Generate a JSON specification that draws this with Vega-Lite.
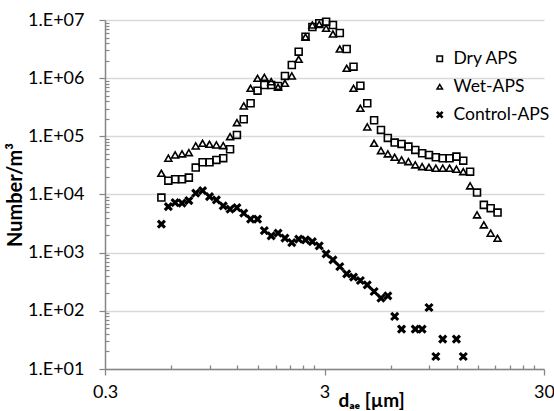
{
  "$schema": "https://vega.github.io/schema/vega-lite/v6.json",
  "autosize": "none",
  "width": 439,
  "height": 349,
  "padding": {"left": 105, "top": 20, "right": 10, "bottom": 42},
  "background": "white",
  "view": {"stroke": null},
  "config": {"font": "Lato"},
  "data": {"values": [
    {"d":0.542,"n":8850,"s":"Dry APS"},{"d":0.583,"n":17300,"s":"Dry APS"},{"d":0.626,"n":18300,"s":"Dry APS"},{"d":0.673,"n":18300,"s":"Dry APS"},{"d":0.723,"n":19500,"s":"Dry APS"},{"d":0.777,"n":29000,"s":"Dry APS"},{"d":0.835,"n":35900,"s":"Dry APS"},{"d":0.898,"n":35900,"s":"Dry APS"},{"d":0.965,"n":39300,"s":"Dry APS"},{"d":1.037,"n":42100,"s":"Dry APS"},
    {"d":1.114,"n":60000,"s":"Dry APS"},{"d":1.197,"n":105700,"s":"Dry APS"},{"d":1.286,"n":196800,"s":"Dry APS"},{"d":1.382,"n":370500,"s":"Dry APS"},{"d":1.486,"n":610000,"s":"Dry APS"},{"d":1.596,"n":764000,"s":"Dry APS"},{"d":1.715,"n":764000,"s":"Dry APS"},{"d":1.843,"n":735000,"s":"Dry APS"},{"d":1.981,"n":1092000,"s":"Dry APS"},{"d":2.129,"n":1686000,"s":"Dry APS"},
    {"d":2.288,"n":2853000,"s":"Dry APS"},{"d":2.458,"n":5164000,"s":"Dry APS"},{"d":2.642,"n":7580000,"s":"Dry APS"},{"d":2.839,"n":8780000,"s":"Dry APS"},{"d":3.051,"n":9350000,"s":"Dry APS"},{"d":3.278,"n":8200000,"s":"Dry APS"},{"d":3.523,"n":5980000,"s":"Dry APS"},{"d":3.786,"n":3175000,"s":"Dry APS"},{"d":4.068,"n":1577000,"s":"Dry APS"},{"d":4.371,"n":743000,"s":"Dry APS"},
    {"d":4.698,"n":370000,"s":"Dry APS"},{"d":5.048,"n":189000,"s":"Dry APS"},{"d":5.425,"n":128800,"s":"Dry APS"},{"d":5.829,"n":93900,"s":"Dry APS"},{"d":6.264,"n":78000,"s":"Dry APS"},{"d":6.732,"n":74000,"s":"Dry APS"},{"d":7.234,"n":66600,"s":"Dry APS"},{"d":7.774,"n":58400,"s":"Dry APS"},{"d":8.354,"n":51200,"s":"Dry APS"},{"d":8.977,"n":47900,"s":"Dry APS"},
    {"d":9.647,"n":43700,"s":"Dry APS"},{"d":10.37,"n":42000,"s":"Dry APS"},{"d":11.14,"n":42000,"s":"Dry APS"},{"d":11.97,"n":44800,"s":"Dry APS"},{"d":12.86,"n":38200,"s":"Dry APS"},{"d":13.82,"n":24700,"s":"Dry APS"},{"d":14.86,"n":10780,"s":"Dry APS"},{"d":15.96,"n":6630,"s":"Dry APS"},{"d":17.15,"n":5820,"s":"Dry APS"},{"d":18.43,"n":4890,"s":"Dry APS"},
    {"d":0.542,"n":23200,"s":"Wet-APS"},{"d":0.583,"n":42100,"s":"Wet-APS"},{"d":0.626,"n":47900,"s":"Wet-APS"},{"d":0.673,"n":49900,"s":"Wet-APS"},{"d":0.723,"n":52500,"s":"Wet-APS"},{"d":0.777,"n":68400,"s":"Wet-APS"},{"d":0.835,"n":76000,"s":"Wet-APS"},{"d":0.898,"n":73100,"s":"Wet-APS"},{"d":0.965,"n":71100,"s":"Wet-APS"},{"d":1.037,"n":69200,"s":"Wet-APS"},
    {"d":1.114,"n":98800,"s":"Wet-APS"},{"d":1.197,"n":171900,"s":"Wet-APS"},{"d":1.286,"n":332900,"s":"Wet-APS"},{"d":1.382,"n":670600,"s":"Wet-APS"},{"d":1.486,"n":995000,"s":"Wet-APS"},{"d":1.596,"n":1035000,"s":"Wet-APS"},{"d":1.715,"n":870000,"s":"Wet-APS"},{"d":1.843,"n":698000,"s":"Wet-APS"},{"d":1.981,"n":817000,"s":"Wet-APS"},{"d":2.129,"n":1092000,"s":"Wet-APS"},
    {"d":2.288,"n":2113000,"s":"Wet-APS"},{"d":2.458,"n":5100000,"s":"Wet-APS"},{"d":2.642,"n":8200000,"s":"Wet-APS"},{"d":2.839,"n":8400000,"s":"Wet-APS"},{"d":3.051,"n":7200000,"s":"Wet-APS"},{"d":3.278,"n":5750000,"s":"Wet-APS"},{"d":3.523,"n":3175000,"s":"Wet-APS"},{"d":3.786,"n":1479000,"s":"Wet-APS"},{"d":4.068,"n":670000,"s":"Wet-APS"},{"d":4.371,"n":304000,"s":"Wet-APS"},
    {"d":4.698,"n":145000,"s":"Wet-APS"},{"d":5.048,"n":76000,"s":"Wet-APS"},{"d":5.425,"n":56800,"s":"Wet-APS"},{"d":5.829,"n":49900,"s":"Wet-APS"},{"d":6.264,"n":43700,"s":"Wet-APS"},{"d":6.732,"n":39300,"s":"Wet-APS"},{"d":7.234,"n":36800,"s":"Wet-APS"},{"d":7.774,"n":32300,"s":"Wet-APS"},{"d":8.354,"n":30200,"s":"Wet-APS"},{"d":8.977,"n":29400,"s":"Wet-APS"},
    {"d":9.647,"n":28300,"s":"Wet-APS"},{"d":10.37,"n":28300,"s":"Wet-APS"},{"d":11.14,"n":28300,"s":"Wet-APS"},{"d":11.97,"n":27200,"s":"Wet-APS"},{"d":12.86,"n":24700,"s":"Wet-APS"},{"d":13.82,"n":14050,"s":"Wet-APS"},{"d":14.86,"n":4460,"s":"Wet-APS"},{"d":15.96,"n":3000,"s":"Wet-APS"},{"d":17.15,"n":2160,"s":"Wet-APS"},{"d":18.43,"n":1770,"s":"Wet-APS"},
    {"d":0.542,"n":3090,"s":"Control-APS"},{"d":0.583,"n":6190,"s":"Control-APS"},{"d":0.626,"n":7260,"s":"Control-APS"},{"d":0.673,"n":7090,"s":"Control-APS"},{"d":0.723,"n":7860,"s":"Control-APS"},{"d":0.777,"n":10530,"s":"Control-APS"},{"d":0.835,"n":11660,"s":"Control-APS"},{"d":0.898,"n":9200,"s":"Control-APS"},{"d":0.965,"n":8080,"s":"Control-APS"},{"d":1.037,"n":6370,"s":"Control-APS"},
    {"d":1.114,"n":5590,"s":"Control-APS"},{"d":1.197,"n":5930,"s":"Control-APS"},{"d":1.286,"n":4770,"s":"Control-APS"},{"d":1.382,"n":3770,"s":"Control-APS"},{"d":1.486,"n":3770,"s":"Control-APS"},{"d":1.596,"n":2400,"s":"Control-APS"},{"d":1.715,"n":1945,"s":"Control-APS"},{"d":1.843,"n":2165,"s":"Control-APS"},{"d":1.981,"n":1775,"s":"Control-APS"},{"d":2.129,"n":1492,"s":"Control-APS"},
    {"d":2.288,"n":1706,"s":"Control-APS"},{"d":2.458,"n":1660,"s":"Control-APS"},{"d":2.642,"n":1552,"s":"Control-APS"},{"d":2.839,"n":1309,"s":"Control-APS"},{"d":3.051,"n":953,"s":"Control-APS"},{"d":3.278,"n":752,"s":"Control-APS"},{"d":3.523,"n":577,"s":"Control-APS"},{"d":3.786,"n":432,"s":"Control-APS"},{"d":4.068,"n":379,"s":"Control-APS"},{"d":4.371,"n":332,"s":"Control-APS"},
    {"d":4.698,"n":280,"s":"Control-APS"},{"d":5.048,"n":215,"s":"Control-APS"},{"d":5.425,"n":165,"s":"Control-APS"},{"d":5.829,"n":181,"s":"Control-APS"},{"d":6.264,"n":80,"s":"Control-APS"},{"d":6.732,"n":48.5,"s":"Control-APS"},{"d":7.774,"n":48.5,"s":"Control-APS"},{"d":8.354,"n":48.5,"s":"Control-APS"},{"d":8.977,"n":114,"s":"Control-APS"},{"d":9.647,"n":16.4,"s":"Control-APS"},
    {"d":10.37,"n":32.7,"s":"Control-APS"},{"d":11.97,"n":32.7,"s":"Control-APS"},{"d":12.86,"n":16.4,"s":"Control-APS"}
  ]},
  "mark": {"type": "point", "filled": false, "stroke": "black", "strokeWidth": 1.6, "opacity": 1, "size": 48},
  "encoding": {
    "x": {
      "field": "d", "type": "quantitative",
      "scale": {"type": "log", "domain": [0.3, 30], "nice": false},
      "axis": {
        "title": "dₐₑ [µm]",
        "titleFont": "Lato", "titleFontSize": 19, "titleFontWeight": "bold", "titleColor": "black",
        "titleX": 266, "titleY": 37, "titleBaseline": "alphabetic", "titleAlign": "center",
        "values": [0.3,0.6,0.9,1.2,1.5,1.8,2.1,2.4,2.7,3,6,9,12,15,18,21,24,27,30],
        "labelExpr": "datum.value==0.3?'0.3':(datum.value==3?'3':(datum.value==30?'30':''))",
        "labelFont": "Lato", "labelFontSize": 18, "labelColor": "black",
        "labelOverlap": false, "labelFlush": false, "labelBound": false, "labelPadding": 8,
        "grid": false,
        "domainColor": "#868686", "domainWidth": 1.5,
        "tickColor": "#868686", "tickWidth": 1.3,
        "tickSize": {"condition": {"test": "datum.value==0.3||datum.value==3||datum.value==30", "value": 6}, "value": -4}
      }
    },
    "y": {
      "field": "n", "type": "quantitative",
      "scale": {"type": "log", "domain": [10, 10000000], "nice": false},
      "axis": {
        "title": "Number/m³",
        "titleFont": "Lato", "titleFontSize": 20, "titleFontWeight": "bold", "titleColor": "black",
        "titleX": -80, "titleY": 174.5, "titleAngle": 270, "titleAlign": "center", "titleBaseline": "bottom",
        "values": [10,20,30,40,50,60,70,80,90,100,200,300,400,500,600,700,800,900,1000,2000,3000,4000,5000,6000,7000,8000,9000,10000,20000,30000,40000,50000,60000,70000,80000,90000,100000,200000,300000,400000,500000,600000,700000,800000,900000,1000000,2000000,3000000,4000000,5000000,6000000,7000000,8000000,9000000,10000000],
        "labelExpr": "abs(log(datum.value)/LN10 - round(log(datum.value)/LN10)) < 0.0001 ? '1.E+' + (round(log(datum.value)/LN10) < 10 ? '0' : '') + round(log(datum.value)/LN10) : ''",
        "labelFont": "Lato", "labelFontSize": 18, "labelColor": "black",
        "labelOverlap": false, "labelBound": false, "labelFlush": false, "labelPadding": 15,
        "grid": true, "gridColor": "#d9d9d9", "gridWidth": 1.3,
        "gridOpacity": {"condition": {"test": "abs(log(datum.value)/LN10 - round(log(datum.value)/LN10)) < 0.0001", "value": 1}, "value": 0},
        "domainColor": "#868686", "domainWidth": 1.5,
        "tickColor": "#868686", "tickWidth": 1.2,
        "tickSize": {"condition": {"test": "abs(log(datum.value)/LN10 - round(log(datum.value)/LN10)) < 0.0001", "value": 6}, "value": -4}
      }
    },
    "shape": {
      "field": "s", "type": "nominal",
      "scale": {"domain": ["Dry APS", "Wet-APS", "Control-APS"], "range": ["square", "triangle-up", "M-1,-0.7L-0.7,-1L0,-0.3L0.7,-1L1,-0.7L0.3,0L1,0.7L0.7,1L0,0.3L-0.7,1L-1,0.7L-0.3,0Z"]},
      "legend": {
        "title": null, "orient": "none", "legendX": 326, "legendY": 30,
        "labelFont": "Lato", "labelFontSize": 17.5, "labelColor": "black",
        "symbolSize": 30, "rowPadding": 9, "labelOffset": 5, "padding": 0,
        "encode": {"symbols": {"update": {"stroke": {"value": "black"}, "strokeWidth": {"value": 1.5}}}}
      }
    },
    "fill": {
      "field": "s", "type": "nominal",
      "scale": {"domain": ["Dry APS", "Wet-APS", "Control-APS"], "range": ["transparent", "transparent", "black"]},
      "legend": {
        "title": null, "orient": "none", "legendX": 326, "legendY": 30,
        "labelFont": "Lato", "labelFontSize": 17.5, "labelColor": "black",
        "symbolSize": 30, "rowPadding": 9, "labelOffset": 5, "padding": 0,
        "encode": {"symbols": {"update": {"stroke": {"value": "black"}, "strokeWidth": {"value": 1.5}}}}
      }
    }
  }
}
